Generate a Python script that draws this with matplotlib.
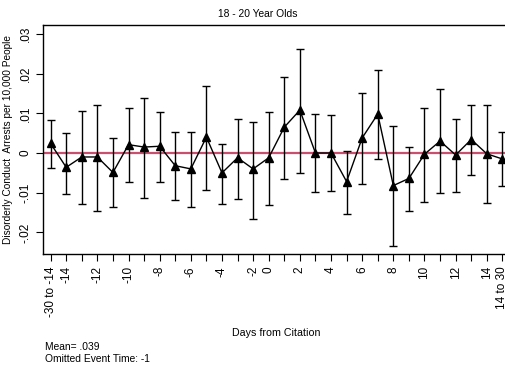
"""
Event-study plot: disorderly conduct arrests around citation, 18-20 year olds.
"""

import matplotlib.pyplot as plt

OUT_PATH = "out.png"

# event time categories (the -1 period is omitted)
categories = ["-30 to -14"] + [str(d) for d in range(-14, -1)] + [str(d) for d in range(0, 15)] + ["14 to 30"]
labeled = ["-30 to -14", "-14", "-12", "-10", "-8", "-6", "-4", "-2",
           "0", "2", "4", "6", "8", "10", "12", "14", "14 to 30"]

coef = [0.0024, -0.0036, -0.0010, -0.0010, -0.0049, 0.0021, 0.0015, 0.0017,
        -0.0032, -0.0040, 0.0040, -0.0050, -0.0012, -0.0040, -0.0012, 0.0065,
        0.0108, 0.0000, 0.0000, -0.0072, 0.0038, 0.0098, -0.0082, -0.0064,
        -0.0003, 0.0030, -0.0005, 0.0034, -0.0002, -0.0015]
ci_hi = [0.0082, 0.0050, 0.0106, 0.0122, 0.0038, 0.0113, 0.0138, 0.0103,
         0.0052, 0.0052, 0.0168, 0.0023, 0.0086, 0.0077, 0.0103, 0.0192,
         0.0261, 0.0097, 0.0095, 0.0005, 0.0150, 0.0208, 0.0069, 0.0016,
         0.0113, 0.0160, 0.0086, 0.0122, 0.0121, 0.0054]
ci_lo = [-0.0038, -0.0103, -0.0129, -0.0145, -0.0137, -0.0072, -0.0113, -0.0074,
         -0.0119, -0.0135, -0.0092, -0.0129, -0.0116, -0.0165, -0.0132, -0.0065,
         -0.0050, -0.0099, -0.0096, -0.0153, -0.0078, -0.0014, -0.0235, -0.0145,
         -0.0123, -0.0100, -0.0097, -0.0056, -0.0125, -0.0084]

yticks = [-0.02, -0.01, 0, 0.01, 0.02, 0.03]
ytick_labels = ["-.02", "-.01", "0", ".01", ".02", ".03"]


def main() -> None:
    plt.rcParams["font.family"] = ["Liberation Sans", "DejaVu Sans"]

    W, H = 506, 369
    fig = plt.figure(figsize=(W / 100, H / 100), dpi=100)
    left, right, top, bottom = 43.3, 509.7, 24.7, 254.3
    ax = fig.add_axes([left / W, 1 - bottom / H, (right - left) / W, (bottom - top) / H])

    x = list(range(len(categories)))
    err = [[c - lo for c, lo in zip(coef, ci_lo)], [hi - c for c, hi in zip(coef, ci_hi)]]

    ax.axhline(0, color="#c8506e", lw=1.6, zorder=1)
    ax.errorbar(x, coef, yerr=err, fmt="none", ecolor="black", elinewidth=1.0,
                capsize=3, capthick=1.0, zorder=2)
    ax.plot(x, coef, color="black", lw=1.0, marker="^", markersize=6.3, zorder=3)

    ax.set_xlim(-0.47, len(categories) - 1 + 0.47)
    ax.set_ylim(-0.0255, 0.0323)

    ax.set_xticks(x)
    ax.set_xticklabels([c if c in labeled else "" for c in categories],
                       rotation=90, fontsize=8.5)
    ax.set_yticks(yticks)
    ax.set_yticklabels(ytick_labels, rotation=90, va="center", fontsize=8.5)
    ax.tick_params(axis="both", direction="out", length=5, width=0.8, color="black")

    for side in ["top", "right", "bottom", "left"]:
        ax.spines[side].set_linewidth(1.0)

    ax.set_ylabel("Disorderly Conduct  Arrests per 10,000 People", fontsize=7.3, labelpad=5)

    fig.text(258 / W, 1 - 14 / H, "18 - 20 Year Olds", ha="center", va="center", fontsize=7.4)
    fig.text(276 / W, 1 - 333 / H, "Days from Citation", ha="center", va="center", fontsize=7.7)
    fig.text(45 / W, 1 - 347 / H, "Mean= .039", ha="left", va="center", fontsize=7.4)
    fig.text(45 / W, 1 - 359 / H, "Omitted Event Time: -1", ha="left", va="center", fontsize=7.4)

    fig.savefig(OUT_PATH, dpi=100)
    plt.close(fig)


if __name__ == "__main__":
    main()
